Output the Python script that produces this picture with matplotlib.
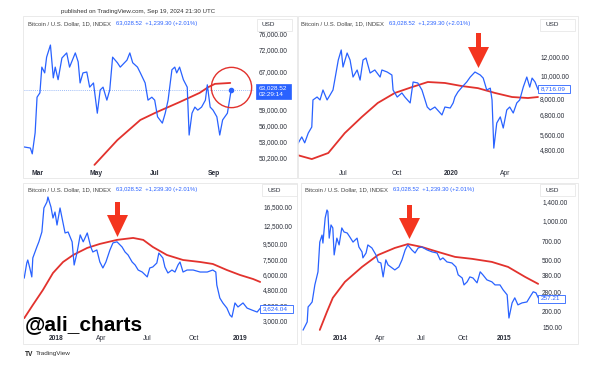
import numpy as np
import matplotlib
matplotlib.use("Agg")
import matplotlib.pyplot as plt
import matplotlib.dates as mdates
from matplotlib.patches import Rectangle, Polygon
from matplotlib.ticker import NullLocator, NullFormatter

plt.rcParams['font.family'] = ['Liberation Sans', 'DejaVu Sans']

# ---------------- data ----------------
# Panel 1: 2024 (days from 2024-03-01)
p1_origin = "2024-03-01"
p1_days = [-15, -8, -6, -3, -1, 2, 4, 7, 9, 13, 16, 18, 21, 25, 30, 33, 39, 42, 44, 47,
           51, 54, 58, 62, 65, 68, 72, 75, 78, 83, 86, 93, 96, 99, 104, 107, 112, 115, 119, 122,
           125, 130, 133, 136, 140, 143, 145, 148, 152, 156, 158, 161, 164, 167, 171, 175, 177, 180,
           183, 187, 190, 193, 198, 202]
p1_price = [52100, 51900, 50900, 54600, 61500, 62400, 68000, 66700, 70300, 73200,
            65600, 68000, 65200, 70100, 71300, 68000, 71300, 69200, 64500, 66700,
            66900, 63600, 64500, 58300, 63000, 63600, 60900, 63000, 70300, 69000,
            68000, 69600, 71300, 69000, 68000, 66700, 64500, 60900, 61500, 60900,
            57600, 56400, 58300, 60900, 67400, 68000, 66700, 68000, 65200, 63600,
            54200, 58300, 59500, 58900, 59500, 60900, 64100, 59500, 58900, 57600,
            54200, 57000, 58300, 63028.52]
p1_ma_days = [59, 83, 107, 124, 148, 169, 178, 185, 201]
p1_ma = [49060, 53300, 57000, 58500, 60500, 62400, 63600, 64300, 64500]
p1_yticks = [76000, 72000, 67000, 59000, 56000, 53000, 50200]
p1_xticks = ["2024-03-01", "2024-05-01", "2024-07-01", "2024-09-01"]
p1_xlabels = ["Mar", "May", "Jul", "Sep"]
p1_last = 63028.52

# Panel 2: 2019-2020 (days from 2019-07-01)
p2_origin = "2019-07-01"
p2_days = [-78, -70, -65, -59, -53, -51, -44, -39, -34, -27, -22, -17, -14, -8, -3,
           0, 7, 12, 17, 24, 29, 34, 39, 46, 54, 63, 66, 75, 83, 85, 92, 100, 105, 114, 119,
           127, 134, 143, 148, 156, 168, 173, 182, 187, 190, 195, 202, 210, 216, 224,
           233, 238, 244, 250, 253, 256, 261, 267, 272, 278, 283, 289, 295, 300, 306,
           312, 317, 321, 326, 331]
p2_price = [5040, 5460, 5150, 5670, 6020, 7860, 8090, 7860, 8670, 7860,
            8250, 8670, 9560, 11650, 12860, 10870, 12480, 11650, 9850, 10560,
            9560, 11650, 11880, 10250, 10560, 9850, 10560, 10350, 10050, 8670,
            8090, 8420, 8090, 7630, 9380, 9290, 8670, 7330, 7120, 7330,
            6780, 7330, 7260, 7630, 8090, 8500, 8920, 9380, 9850, 10350,
            10050, 9750, 8670, 8830, 7860, 4890, 6260, 6650, 5960, 7120,
            7330, 6910, 7630, 7860, 8920, 9850, 8920, 9750, 9380, 8716.09]
p2_ma_days = [-78, -53, -25, 3, 32, 59, 88, 117, 144, 173, 202, 229, 258, 287, 314, 331]
p2_ma = [4570, 4390, 4660, 5670, 6650, 7630, 8420, 8920, 9380, 9290, 9010, 8830, 8420, 8090, 8010, 8090]
p2_yticks = [12000, 10000, 8000, 6800, 5600, 4800]
p2_xticks = ["2019-07-01", "2019-10-01", "2020-01-01", "2020-04-01"]
p2_xlabels = ["Jul", "Oct", "2020", "Apr"]
p2_last = 8716.09

# Panel 3: 2017-2019 (days from 2018-01-01)
p3_origin = "2018-01-01"
p3_days = [-63, -58, -56, -52, -48, -46, -38, -34, -28, -24, -18, -16, -10, -6, -2,
           2, 8, 12, 18, 24, 32, 36, 42, 48, 54, 62, 69, 73, 81, 87, 93, 99, 107, 113, 121,
           131, 137, 143, 151, 157, 163, 171, 181, 186, 192, 200, 204, 212, 216, 222,
           230, 236, 242, 246, 252, 260, 272, 286, 300, 311, 317, 319, 325, 331, 339,
           345, 349, 355, 361, 371, 379, 389, 399, 405]
p3_price = [5710, 7140, 7470, 6630, 5800, 7700, 9080, 9800, 11360, 16260,
            17780, 19160, 16500, 13990, 15310, 12600, 16260, 13990, 11190, 11360,
            9800, 6930, 8420, 10870, 9800, 11190, 9080, 8420, 8680, 7250,
            6630, 7250, 8680, 9650, 9800, 9080, 8420, 8050, 7250, 6930,
            6430, 6240, 5800, 6630, 6730, 7140, 8290, 7700, 6730, 6150,
            6430, 6240, 6930, 7250, 6240, 6430, 6430, 6240, 6240, 6430,
            6240, 5140, 4230, 3930, 3640, 3280, 3180, 3930, 3700, 3930,
            3640, 3530, 3430, 3624.04]
p3_ma_days = [-63, -46, -26, -6, 14, 34, 62, 87, 121, 153, 173, 192, 220, 252, 286, 311, 339, 365, 391, 405]
p3_ma = [3130, 3810, 4770, 6150, 7250, 8050, 8950, 9500, 10090, 10390, 10090, 9080, 8050, 7470,
         7250, 7040, 6430, 5970, 5620, 5380]
p3_yticks = [16500, 12500, 9500, 7500, 6000, 4800, 3800, 3000]
p3_xticks = ["2018-01-01", "2018-04-01", "2018-07-01", "2018-10-01", "2019-01-01"]
p3_xlabels = ["2018", "Apr", "Jul", "Oct", "2019"]
p3_last = 3624.04

# Panel 4: 2013-2015 (days from 2014-01-01)
p4_origin = "2014-01-01"
p4_days = [-82, -73, -71, -67, -62, -56, -49, -45, -40, -38, -33, -29, -27, -24, -20,
           -16, -13, -7, -2, 4, 9, 16, 22, 29, 38, 42, 49, 51, 58, 62, 71, 80, 85, 91, 96,
           102, 107, 116, 122, 131, 138, 145, 151, 160, 167, 174, 182, 194, 205, 216,
           223, 229, 238, 249, 258, 263, 272, 276, 283, 289, 296, 305, 312, 318, 327,
           338, 345, 356, 363, 372, 376, 383, 389, 396, 405, 416, 423, 430, 436, 441]
p4_price = [145, 167, 218, 226, 238, 322, 406, 688, 779, 676,
            1054, 1215, 1180, 738, 932, 884, 548, 738, 654, 884,
            823, 808, 752, 688, 738, 631, 578, 520, 567, 654,
            620, 548, 484, 475, 371, 502, 459, 435, 420, 443,
            502, 598, 654, 598, 567, 620, 631, 598, 578, 567,
            502, 520, 484, 475, 443, 385, 364, 322, 340, 371,
            364, 334, 406, 385, 352, 340, 322, 322, 295, 270,
            179, 234, 256, 226, 234, 238, 261, 285, 280, 257.21]
p4_ma_days = [-45, -29, -16, 11, 49, 85, 122, 151, 182, 218, 256, 294, 338, 374, 412, 441]
p4_ma = [145, 200, 256, 340, 443, 548, 620, 664, 631, 578, 529, 511, 484, 443, 371, 328]
p4_yticks = [1400, 1000, 700, 500, 380, 280, 200, 150]
p4_xticks = ["2014-01-01", "2014-04-01", "2014-07-01", "2014-10-01", "2015-01-01"]
p4_xlabels = ["2014", "Apr", "Jul", "Oct", "2015"]
p4_last = 257.21

header_name = "Bitcoin / U.S. Dollar, 1D, INDEX"
header_vals = "63,028.52  +1,239.30 (+2.01%)"

# ---------------- drawing ----------------
W, H = 595, 367
fig = plt.figure(figsize=(W / 100, H / 100), dpi=100)
fig.patch.set_facecolor('white')

BLUE = '#2962ff'
RED = '#e2322d'
TXT = '#2a2e39'


def to_dates(origin, days):
    return np.datetime64(origin) + np.asarray(days).astype('timedelta64[D]')


def panel(box, xanchor, yanchor, origin, bd, bp, md, mp, yticks, xticks, xlabels, ypad, xpad, xbold):
    x0, y0, x1, y1 = box
    ax = fig.add_axes([x0 / W, 1 - y1 / H, (x1 - x0) / W, (y1 - y0) / H])
    ax.set_yscale('log')
    ax.plot(to_dates(origin, bd), bp, color=BLUE, lw=0.9, solid_joinstyle='round', zorder=3)
    ax.plot(to_dates(origin, md), mp, color=RED, lw=1.3, zorder=2, solid_capstyle='round')
    (da, pa), (db, pb) = xanchor
    na = mdates.date2num(np.datetime64(da))
    nb = mdates.date2num(np.datetime64(db))
    ppd = (pb - pa) / (nb - na)
    ax.set_xlim(na + (x0 - pa) / ppd, na + (x1 - pa) / ppd)
    (va, qa), (vb, qb) = yanchor
    k = (np.log10(va) - np.log10(vb)) / (qb - qa)
    ax.set_ylim(10 ** (np.log10(va) - (y1 - qa) * k), 10 ** (np.log10(va) + (qa - y0) * k))
    ax.yaxis.tick_right()
    ax.yaxis.set_minor_locator(NullLocator())
    ax.yaxis.set_minor_formatter(NullFormatter())
    ax.set_yticks(yticks)
    ax.set_yticklabels([f"{v:,.2f}" for v in yticks])
    ax.tick_params(axis='y', length=0, pad=ypad, labelsize=4.7, labelcolor=TXT)
    ax.set_xticks([mdates.date2num(np.datetime64(d)) for d in xticks])
    ax.set_xticklabels(xlabels)
    ax.tick_params(axis='x', length=0, pad=xpad, labelsize=4.8, labelcolor=TXT)
    for lab, b in zip(ax.get_xticklabels(), xbold):
        lab.set_fontweight('bold' if b else 'normal')
    for s in ax.spines.values():
        s.set_visible(False)
    ax.set_facecolor('none')
    return ax


ax1 = panel((24, 17, 254, 167), (("2024-03-01", 38), ("2024-09-01", 214)), ((72000, 50), (50200, 158)),
            p1_origin, p1_days, p1_price, p1_ma_days, p1_ma, p1_yticks, p1_xticks, p1_xlabels,
            3.6, 2.5, [True, True, True, True])
ax2 = panel((298, 17, 539, 167), (("2019-07-01", 343), ("2020-04-01", 505)), ((12000, 57), (4800, 150)),
            p2_origin, p2_days, p2_price, p2_ma_days, p2_ma, p2_yticks, p2_xticks, p2_xlabels,
            0.8, 2.5, [False, False, True, False])
ax3 = panel((24, 184, 261, 333), (("2018-01-01", 56), ("2019-01-01", 240)), ((16500, 207), (3000, 321)),
            p3_origin, p3_days, p3_price, p3_ma_days, p3_ma, p3_yticks, p3_xticks, p3_xlabels,
            1.5, 1.8, [True, False, False, False, True])
ax4 = panel((302, 184, 539, 333), (("2014-01-01", 340), ("2015-01-01", 504)), ((1400, 202), (150, 328)),
            p4_origin, p4_days, p4_price, p4_ma_days, p4_ma, p4_yticks, p4_xticks, p4_xlabels,
            2.2, 1.8, [True, False, False, False, True])

# panel 1 extras: last-price dotted line, end dot, red circle
ax1.axhline(p1_last, color='#7ea6f5', lw=0.6, ls=(0, (1, 1.5)), zorder=1)
last1 = to_dates(p1_origin, [p1_days[-1]])
ax1.plot(last1, [p1_last], 'o', ms=3, color=BLUE, zorder=4)
ax1.plot(last1, [63700], 'o', ms=29, mfc='none', mec=RED, mew=1.0, zorder=5, clip_on=False)

# ---------------- overlay (pixel coordinates) ----------------
ov = fig.add_axes([0, 0, 1, 1], zorder=10)
ov.set_xlim(0, W)
ov.set_ylim(H, 0)
ov.axis('off')

for (x0, y0, x1, y1) in [(23, 16, 297, 178), (298, 16, 578, 178), (23, 183, 297, 344), (301, 183, 578, 344)]:
    ov.add_patch(Rectangle((x0, y0), x1 - x0, y1 - y0, fill=False, ec='#e6e6e6', lw=0.6))

ov.text(138, 11, "published on TradingView.com, Sep 19, 2024 21:30 UTC", fontsize=4.4,
        color='#333333', ha='center', va='center')

for (hx, hy) in [(28, 24), (301, 24), (28, 190), (305, 190)]:
    ov.text(hx, hy, header_name, fontsize=4.2, color='#444444', va='center')
    ov.text(hx + 88, hy, header_vals, fontsize=4.2, color=BLUE, va='center')

for (bx, by, tx) in [(257, 19, 262), (540, 19, 545), (262, 184, 267), (540, 184, 545)]:
    ov.add_patch(Rectangle((bx, by), 35, 12, fc='white', ec='#e3e3e3', lw=0.5))
    ov.text(tx, by + 6, "USD", fontsize=4.6, color=TXT, va='center')

# price labels
ov.add_patch(Rectangle((256, 83.5), 35, 15, fc=BLUE, ec=BLUE, lw=0.5))
ov.text(259, 88, f"{p1_last:,.2f}", fontsize=4.6, color='white', va='center')
ov.text(259, 95, "02:29:14", fontsize=4.6, color='white', va='center')
for (bx, by, bw, val) in [(538, 85, 32, p2_last), (260, 305, 33, p3_last), (538, 295, 27, p4_last)]:
    ov.add_patch(Rectangle((bx, by), bw, 8, fc='white', ec=BLUE, lw=0.6))
    ov.text(bx + 3, by + 4, f"{val:,.2f}", fontsize=4.6, color=BLUE, va='center')

# red arrows
ARROW = '#f4351f'
for (cx, yt, yh, yb) in [(478.5, 33, 47, 68), (117.5, 202, 215, 237), (409.5, 205, 218, 239)]:
    ov.add_patch(Polygon([(cx - 2.5, yt), (cx + 2.5, yt), (cx + 2.5, yh), (cx + 10.5, yh), (cx, yb),
                          (cx - 10.5, yh), (cx - 2.5, yh)], closed=True, fc=ARROW, ec='none'))

ov.text(25, 330, "@ali_charts", fontsize=15, fontweight='bold', color='black', va='baseline')

ov.text(25, 354, "TV", fontsize=4.8, fontweight='bold', color='#222222', va='center')
ov.text(36, 354, "TradingView", fontsize=4.6, color='#333333', va='center')

fig.savefig("out.png", dpi=100, facecolor='white')
